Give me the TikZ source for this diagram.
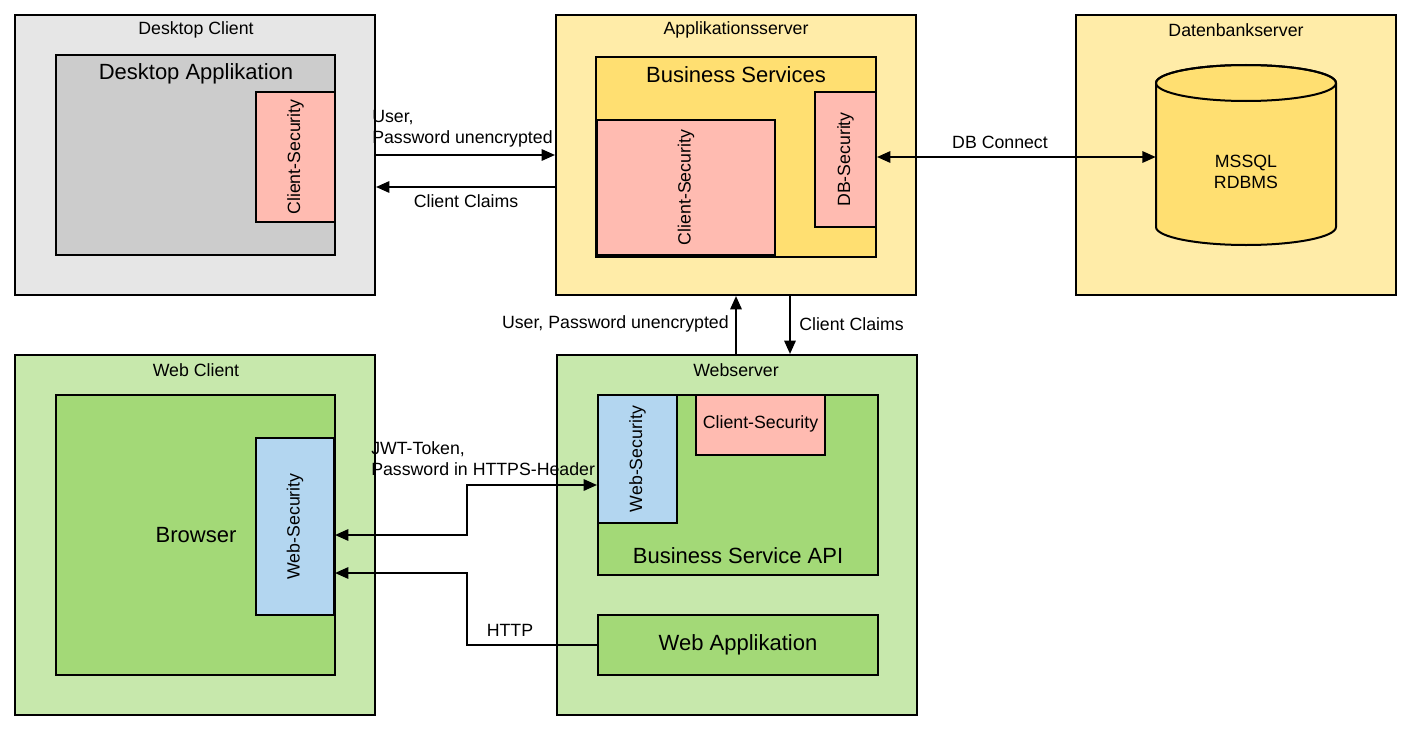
\documentclass[tikz,border=0pt]{standalone}
\usepackage{fontspec}
\setmainfont{Liberation Sans}
\usetikzlibrary{arrows.meta,fit}
\definecolor{greyOut}{HTML}{E6E6E6}
\definecolor{greyIn}{HTML}{CCCCCC}
\definecolor{pinkSec}{HTML}{FFBBB1}
\definecolor{yelOut}{HTML}{FFECA8}
\definecolor{yelIn}{HTML}{FFDF71}
\definecolor{grnOut}{HTML}{C7E8AC}
\definecolor{grnIn}{HTML}{A3D977}
\definecolor{bluSec}{HTML}{B3D6F0}
\tikzset{
  box/.style={draw=black, line width=1.5pt, inner sep=0pt},
  small/.style={font=\fontsize{13.3pt}{16pt}\selectfont, inner sep=0pt, yshift=-1.5pt},
  big/.style={font=\fontsize{16.5pt}{20pt}\selectfont, inner sep=0pt, yshift=-2pt},
  vtext/.style={font=\fontsize{13.3pt}{16pt}\selectfont, inner sep=0pt, rotate=90},
  conn/.style={line width=1.5pt, draw=black},
  tip/.style={-{Triangle[length=10pt,width=8.5pt]}},
  tips/.style={{Triangle[length=10pt,width=8.5pt]}-{Triangle[length=10pt,width=8.5pt]}},
}
\begin{document}
\begin{tikzpicture}[x=0.75pt,y=-0.75pt]
\useasboundingbox[fill=white] (0,0) rectangle (1412,735);
% Desktop client
\node[box, fill=greyOut, fit={(15,15)(375,295)}] (dc) {};
\node[small] (dcT) at (196,28) {Desktop Client};
\node[box, fill=greyIn, fit={(56,55)(335,255)}] (dapp) {};
\node[big] (dappT) at (196,71) {Desktop Applikation};
\node[box, fill=pinkSec, fit={(256,92)(335,222)}] (dcs) {};
\node[vtext] (dcsT) at (dcs.center) {Client-Security};
% Applikationsserver
\node[box, fill=yelOut, fit={(556,15)(916,295)}] (as) {};
\node[small] (asT) at (736,28) {Applikationsserver};
\node[box, fill=yelIn, fit={(596,57)(876,257)}] (bs) {};
\node[big] (bsT) at (736,72) {Business Services};
\node[box, fill=pinkSec, fit={(597,120)(775,255)}] (acs) {};
\node[vtext] (acsT) at (acs.center) {Client-Security};
\node[box, fill=pinkSec, fit={(815,92)(876,227)}] (dbs) {};
\node[vtext] (dbsT) at (dbs.center) {DB-Security};
% Datenbankserver
\node[box, fill=yelOut, fit={(1076,15)(1396,295)}] (dbsrv) {};
\node[small] (dbsrvT) at (1236,28) {Datenbankserver};
\filldraw[fill=yelIn, line width=1.5pt] (1156,83) -- (1156,227) arc[start angle=180, end angle=360, x radius=67.5pt, y radius=13.5pt] -- (1336,83) arc[start angle=0, end angle=180, x radius=67.5pt, y radius=13.5pt] -- cycle;
\draw[line width=1.5pt] (1246,83) ellipse[x radius=67.5pt, y radius=13.5pt];
\node[inner sep=0pt, fit={(1156,65)(1336,245)}] (db) {};
\node[small, align=center] (dbT) at (1246,170) {MSSQL\\RDBMS};
% Web client
\node[box, fill=grnOut, fit={(15,355)(375,715)}] (wc) {};
\node[small] (wcT) at (196,368) {Web Client};
\node[box, fill=grnIn, fit={(56,395)(335,675)}] (br) {};
\node[big] (brT) at (196,532) {Browser};
\node[box, fill=bluSec, fit={(256,438)(334,615)}] (bws) {};
\node[vtext] (bwsT) at (bws.center) {Web-Security};
% Webserver
\node[box, fill=grnOut, fit={(557,355)(917,715)}] (ws) {};
\node[small] (wsT) at (736,368) {Webserver};
\node[box, fill=grnIn, fit={(598,395)(878,575)}] (api) {};
\node[big] (apiT) at (738,553) {Business Service API};
\node[box, fill=bluSec, fit={(598,395)(677,523)}] (wss) {};
\node[vtext] (wssT) at (wss.center) {Web-Security};
\node[box, fill=pinkSec, fit={(696,395)(825,455)}] (wcs) {};
\node[small] (wcsT) at (760.5,422) {Client-Security};
\node[box, fill=grnIn, fit={(598,615)(878,675)}] (wapp) {};
\node[big] (wappT) at (738,642) {Web Applikation};
% connectors
\draw[conn, tip] (dc.east |- 0,155) -- (as.west |- 0,155);
\draw[conn, tip] (as.west |- 0,187) -- (dc.east |- 0,187);
\draw[conn, tips] (dbs.east |- 0,157) -- (db.west |- 0,157);
\draw[conn, tip] (ws.north -| 736,0) -- (as.south -| 736,0);
\draw[conn, tip] (as.south -| 790,0) -- (ws.north -| 790,0);
\draw[conn, tips] (wss.west |- 0,485) -- (467,485) -- (467,535) -- (bws.east |- 0,535);
\draw[conn, tip] (wapp.west) -- (467,645) -- (467,573) -- (bws.east |- 0,573);
% labels
\node[small, anchor=west, align=left] (l1) at (372,126.5) {User,\\Password unencrypted};
\node[small] (l2) at (466,199) {Client Claims};
\node[small] (l3) at (1000,140) {DB Connect};
\node[small, anchor=east] (l4) at (729,322) {User, Password unencrypted};
\node[small, anchor=west] (l5) at (799,322) {Client Claims};
\node[small, anchor=west, align=left] (l6) at (371,456.5) {JWT-Token,\\Password in HTTPS-Header};
\node[small] (l7) at (510,628) {HTTP};
\end{tikzpicture}
\end{document}
